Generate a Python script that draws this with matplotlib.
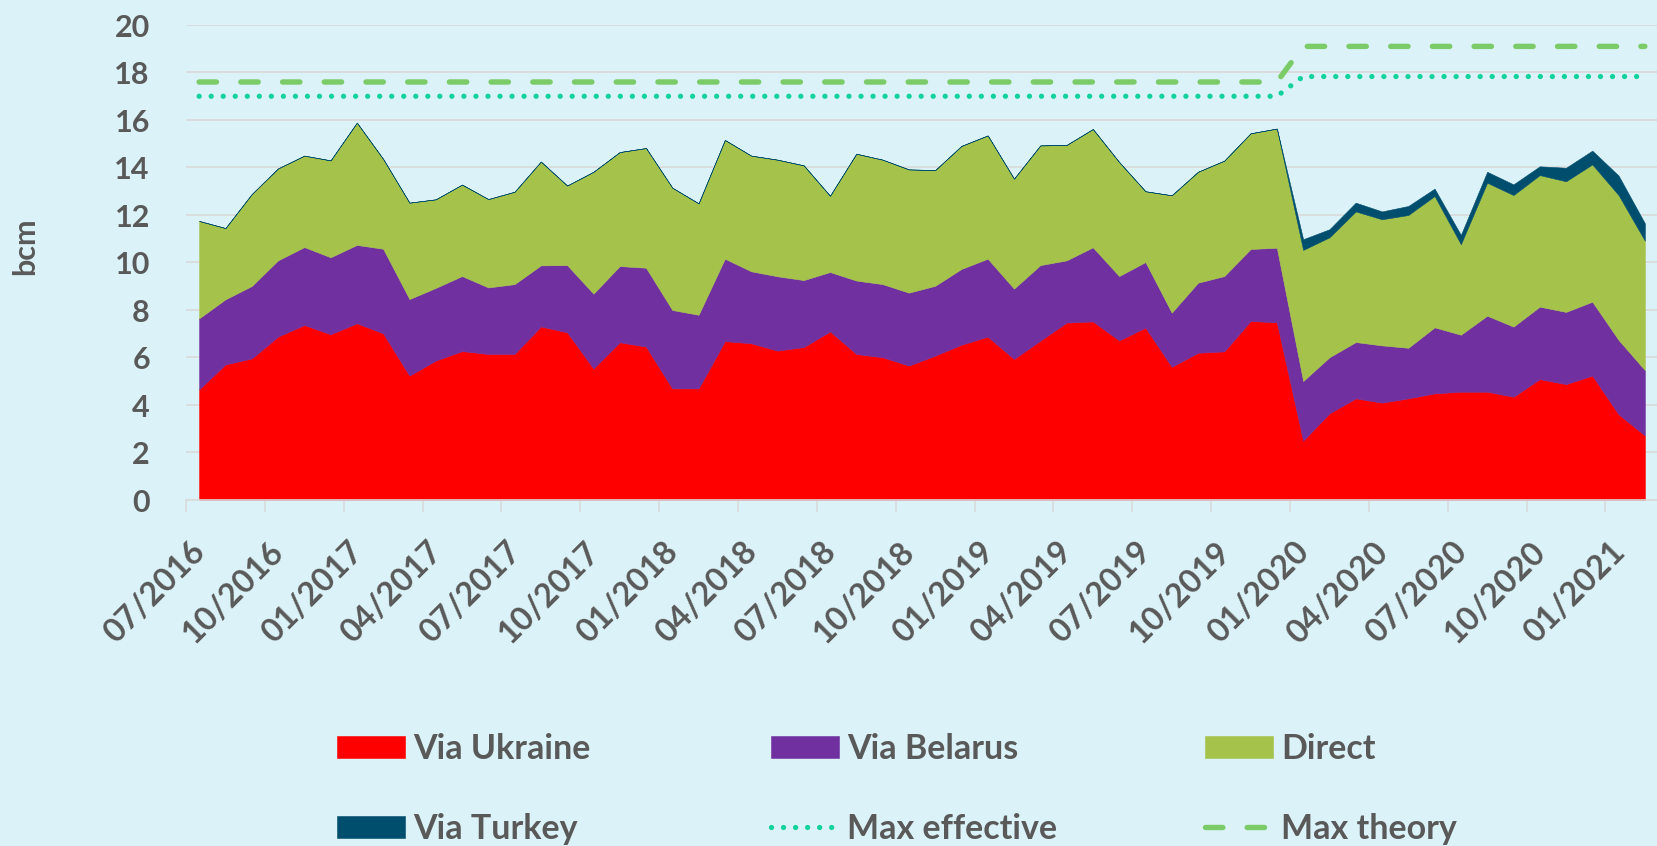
import numpy as np
import matplotlib
matplotlib.use("Agg")
import matplotlib.pyplot as plt
from matplotlib.transforms import ScaledTranslation

plt.rcParams['font.family'] = ['Lato', 'DejaVu Sans']
plt.rcParams['font.weight'] = 'bold'

# ---------------- data (bcm, monthly 07/2016 .. 02/2021) ----------------
tick_labels = ["07/2016", "10/2016", "01/2017", "04/2017", "07/2017", "10/2017",
               "01/2018", "04/2018", "07/2018", "10/2018", "01/2019", "04/2019",
               "07/2019", "10/2019", "01/2020", "04/2020", "07/2020", "10/2020",
               "01/2021"]

via_ukraine = [4.66, 5.71, 5.96, 6.88, 7.37, 6.98, 7.44, 7.02, 5.24, 5.87,
               6.27, 6.15, 6.15, 7.31, 7.06, 5.54, 6.64, 6.46, 4.70, 4.70,
               6.69, 6.60, 6.29, 6.44, 7.10, 6.15, 6.01, 5.66, 6.08, 6.54,
               6.88, 5.94, 6.71, 7.47, 7.52, 6.72, 7.26, 5.61, 6.20, 6.26,
               7.54, 7.48, 2.50, 3.65, 4.28, 4.10, 4.28, 4.49, 4.56, 4.56,
               4.35, 5.09, 4.88, 5.24, 3.61, 2.72]

via_belarus = [2.99, 2.74, 3.05, 3.21, 3.28, 3.24, 3.30, 3.56, 3.22, 3.06,
               3.16, 2.80, 2.94, 2.57, 2.83, 3.15, 3.21, 3.32, 3.30, 3.10,
               3.47, 3.03, 3.13, 2.82, 2.50, 3.09, 3.08, 3.07, 2.94, 3.19,
               3.28, 2.96, 3.18, 2.62, 3.12, 2.71, 2.76, 2.28, 2.95, 3.17,
               3.03, 3.14, 2.51, 2.36, 2.37, 2.41, 2.13, 2.78, 2.40, 3.20,
               2.95, 3.05, 3.04, 3.11, 3.13, 2.75]

direct = [4.10, 3.00, 3.87, 3.87, 3.85, 4.08, 5.15, 3.78, 4.06, 3.73,
          3.85, 3.72, 3.89, 4.37, 3.35, 5.13, 4.80, 5.04, 5.15, 4.69,
          5.00, 4.87, 4.91, 4.83, 3.21, 5.34, 5.24, 5.19, 4.87, 5.18,
          5.19, 4.63, 5.04, 4.86, 4.98, 4.80, 2.98, 4.94, 4.67, 4.86,
          4.87, 5.02, 5.52, 5.05, 5.50, 5.31, 5.59, 5.53, 3.81, 5.60,
          5.54, 5.54, 5.50, 5.78, 6.10, 5.45]

via_turkey = [0, 0, 0, 0, 0, 0, 0, 0, 0, 0,
              0, 0, 0, 0, 0, 0, 0, 0, 0, 0,
              0, 0, 0, 0, 0, 0, 0, 0, 0, 0,
              0, 0, 0, 0, 0, 0, 0, 0, 0, 0,
              0, 0, 0.45, 0.34, 0.37, 0.33, 0.38, 0.31, 0.39, 0.46,
              0.45, 0.37, 0.57, 0.58, 0.82, 0.73]

max_effective = [17.0, 17.0, 17.0, 17.0, 17.0, 17.0, 17.0, 17.0, 17.0, 17.0,
                 17.0, 17.0, 17.0, 17.0, 17.0, 17.0, 17.0, 17.0, 17.0, 17.0,
                 17.0, 17.0, 17.0, 17.0, 17.0, 17.0, 17.0, 17.0, 17.0, 17.0,
                 17.0, 17.0, 17.0, 17.0, 17.0, 17.0, 17.0, 17.0, 17.0, 17.0,
                 17.0, 17.0, 17.83, 17.83, 17.83, 17.83, 17.83, 17.83, 17.83, 17.83,
                 17.83, 17.83, 17.83, 17.83, 17.83, 17.83]

max_theory = [17.6, 17.6, 17.6, 17.6, 17.6, 17.6, 17.6, 17.6, 17.6, 17.6,
              17.6, 17.6, 17.6, 17.6, 17.6, 17.6, 17.6, 17.6, 17.6, 17.6,
              17.6, 17.6, 17.6, 17.6, 17.6, 17.6, 17.6, 17.6, 17.6, 17.6,
              17.6, 17.6, 17.6, 17.6, 17.6, 17.6, 17.6, 17.6, 17.6, 17.6,
              17.6, 17.6, 19.1, 19.1, 19.1, 19.1, 19.1, 19.1, 19.1, 19.1,
              19.1, 19.1, 19.1, 19.1, 19.1, 19.1]

series_names = ["Via Ukraine", "Via Belarus", "Direct", "Via Turkey"]
series_colors = ["#FF0000", "#7030A0", "#A5C24B", "#004E6E"]

# ---------------- figure ----------------
BG = "#DBF3F8"
TXT = "#595959"
GRID = "#D9D9D9"
W, H = 1658, 846

months = np.arange(len(via_ukraine))

fig = plt.figure(figsize=(W / 100, H / 100), dpi=100, facecolor=BG)
ax = fig.add_axes([186 / W, 346 / H, 1472 / W, 475 / H], facecolor=BG)

polys = ax.stackplot(months, via_ukraine, via_belarus, direct, via_turkey,
                     colors=series_colors, labels=series_names, zorder=2,
                     linewidth=0.4)
for p, c in zip(polys, series_colors):
    p.set_edgecolor(c)

l_eff, = ax.plot(months, max_effective, color="#12D29B", lw=3.8,
                 dashes=(0.01, 2.27), dash_capstyle="round",
                 label="Max effective", zorder=3)
l_th, = ax.plot(months, max_theory, color="#7BCB69", lw=3.9,
                dashes=(3.2, 4.5), dash_capstyle="round",
                label="Max theory", zorder=3)

ax.set_xlim(-0.5, len(months) - 0.5)
ax.set_ylim(0, 20)

# y axis
ax.set_yticks(np.arange(0, 21, 2))
ax.grid(axis="y", color=GRID, lw=1.2, zorder=0)
ax.set_axisbelow(True)
ax.tick_params(axis="y", length=0, pad=26, labelsize=22, labelcolor=TXT)

for s in ["left", "right", "top"]:
    ax.spines[s].set_visible(False)
ax.spines["bottom"].set_color(GRID)
ax.spines["bottom"].set_linewidth(1.2)

# x axis
ax.set_xticks(months[::3])
ax.set_xticklabels(tick_labels)
ax.set_xticks(months[::3][:len(tick_labels)] - 0.5, minor=True)
ax.tick_params(axis="x", which="major", length=0, pad=34, labelsize=23.5,
               labelcolor=TXT)
ax.tick_params(axis="x", which="minor", length=8.6, width=1.1, color=GRID)
shift = ScaledTranslation(1 / 100, 0, fig.dpi_scale_trans)
for lab in ax.get_xticklabels():
    lab.set_rotation(45)
    lab.set_ha("right")
    lab.set_va("center")
    lab.set_rotation_mode("anchor")
    lab.set_transform(lab.get_transform() + shift)

fig.text(25 / W, 1 - 246 / H, "bcm", rotation=90, ha="center", va="center",
         fontsize=22, color=TXT)

# legend: three columns, two rows each
handles = dict(zip(series_names, polys))
handles["Max effective"] = l_eff
handles["Max theory"] = l_th
columns = [(["Via Ukraine", "Via Turkey"], 337),
           (["Via Belarus", "Max effective"], 771),
           (["Direct", "Max theory"], 1205)]
for names, xpix in columns:
    fig.legend([handles[n] for n in names], names, loc="center left",
               bbox_to_anchor=(xpix / W, 1 - 789 / H), frameon=False,
               fontsize=24.5, handlelength=2.0, handleheight=0.62,
               handletextpad=0.24, labelspacing=1.4, borderpad=0,
               borderaxespad=0, labelcolor=TXT)

fig.savefig("out.png", dpi=100, facecolor=BG)
